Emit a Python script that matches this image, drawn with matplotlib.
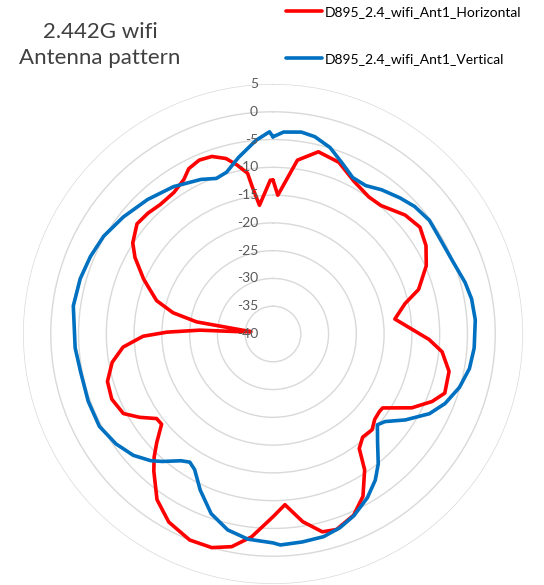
import numpy as np
import matplotlib.pyplot as plt
from matplotlib.transforms import offset_copy

# angulo (grados, sentido horario desde arriba) y ganancia en dB
ang_h = [0, 2, 8, 14, 21, 28, 35, 40, 48, 54, 60, 66, 73, 77, 83, 88, 92, 96, 102,
         109, 113, 118, 124, 126, 130, 134, 139, 143, 146, 151, 156, 162, 166, 171,
         176, 180, 186, 191, 196, 202, 209, 215, 221, 224, 227, 231, 234, 238, 242,
         248, 254, 260, 265, 269, 271, 273, 274, 276, 279, 282, 286, 293, 299, 303,
         309, 314, 319, 325, 330, 333, 337, 341, 345, 348, 351, 352, 354, 359]
val_h = [-12.3, -15.0, -8.4, -6.2, -6.9, -8.9, -9.9, -9.8, -8.0, -7.3, -8.2, -9.8,
         -12.6, -15.6, -17.9, -15.0, -11.9, -9.4, -7.6, -7.3, -8.9, -11.7, -16.2,
         -16.3, -16.1, -15.2, -15.4, -14.2, -10.5, -6.6, -4.3, -3.0, -3.3, -5.8,
         -9.2, -7.1, -3.3, -1.0, 0.0, 0.0, -1.3, -3.6, -7.3, -9.2, -11.4, -14.2,
         -14.1, -11.7, -9.5, -8.7, -9.0, -10.6, -12.9, -16.6, -20.9, -26.8, -34.1,
         -36.0, -26.1, -21.6, -18.2, -14.7, -11.6, -9.9, -8.5, -8.7, -9.1, -8.9,
         -7.9, -6.6, -6.0, -6.2, -7.3, -8.9, -10.7, -13.3, -16.7, -12.3]

ang_v = [0, 3, 8, 12, 17, 22, 27, 32, 37, 43, 48, 54, 60, 68, 75, 80, 86, 94, 100,
         106, 112, 117, 123, 128, 131, 136, 141, 145, 150, 156, 161, 166, 172, 178,
         180, 187, 193, 199, 205, 210, 213, 216, 221, 224, 229, 235, 242, 250, 259,
         266, 278, 286, 293, 300, 308, 317, 326, 335, 340, 344, 349, 355, 359]
val_v = [-4.5, -3.6, -3.3, -3.7, -4.9, -6.8, -8.4, -8.5, -7.5, -6.5, -5.7, -5.2,
         -5.4, -5.1, -4.2, -3.7, -3.5, -3.7, -4.1, -5.1, -6.6, -8.4, -11.6, -14.4,
         -15.1, -12.9, -9.9, -7.9, -6.0, -4.2, -3.1, -2.4, -2.2, -2.0, -2.4, -2.8,
         -3.8, -5.8, -9.0, -11.8, -12.5, -11.8, -9.6, -8.3, -6.7, -5.5, -4.6, -4.6,
         -4.7, -4.3, -3.7, -3.9, -4.3, -4.8, -5.8, -6.9, -8.0, -9.3, -10.2, -9.7,
         -7.6, -5.0, -3.6]

anillos = [5, 0, -5, -10, -15, -20, -25, -30, -35, -40]
nombre_h = "D895_2.4_wifi_Ant1_Horizontal"
nombre_v = "D895_2.4_wifi_Ant1_Vertical"

fig = plt.figure(figsize=(5.44, 5.85), dpi=100)
ax = fig.add_axes([23/544, 1/585, 500/544, 500/585], projection='polar')
ax.set_theta_zero_location('N')
ax.set_theta_direction(-1)
ax.set_ylim(-40, 5)

th_h = np.deg2rad(ang_h + [ang_h[0]])
th_v = np.deg2rad(ang_v + [ang_v[0]])
lh, = ax.plot(th_h, val_h + [val_h[0]], color='#FF0000', lw=2.6, label=nombre_h,
              solid_joinstyle='round', solid_capstyle='round')
lv, = ax.plot(th_v, val_v + [val_v[0]], color='#0070C0', lw=2.6, label=nombre_v,
              solid_joinstyle='round', solid_capstyle='round')

ax.set_xticks([])
ax.set_yticks(anillos[:-1])
ax.set_yticklabels([])
ax.yaxis.grid(True, color='#d9d9d9', lw=1)
ax.spines['polar'].set_visible(False)

tr = offset_copy(ax.transData, fig=fig, x=-15, y=0, units='dots')
for a in anillos:
    ax.text(0, a, str(a), transform=tr, ha='right', va='center',
            fontsize=10, color='#595959', family='Lato')

fig.text(100/544, 1 - 45/585, "2.442G wifi\nAntenna pattern", ha='center', va='center',
         fontsize=16, color='#404040', family='Lato', linespacing=1.35)

fig.legend(handles=[lh, lv], loc='upper left', bbox_to_anchor=(286/544, 1 - 6/585),
           frameon=False, prop={'family': 'Lato', 'size': 10},
           handlelength=2.6, handletextpad=0.2, labelspacing=2.5, borderpad=0,
           borderaxespad=0)

fig.savefig('out.png', dpi=100)
